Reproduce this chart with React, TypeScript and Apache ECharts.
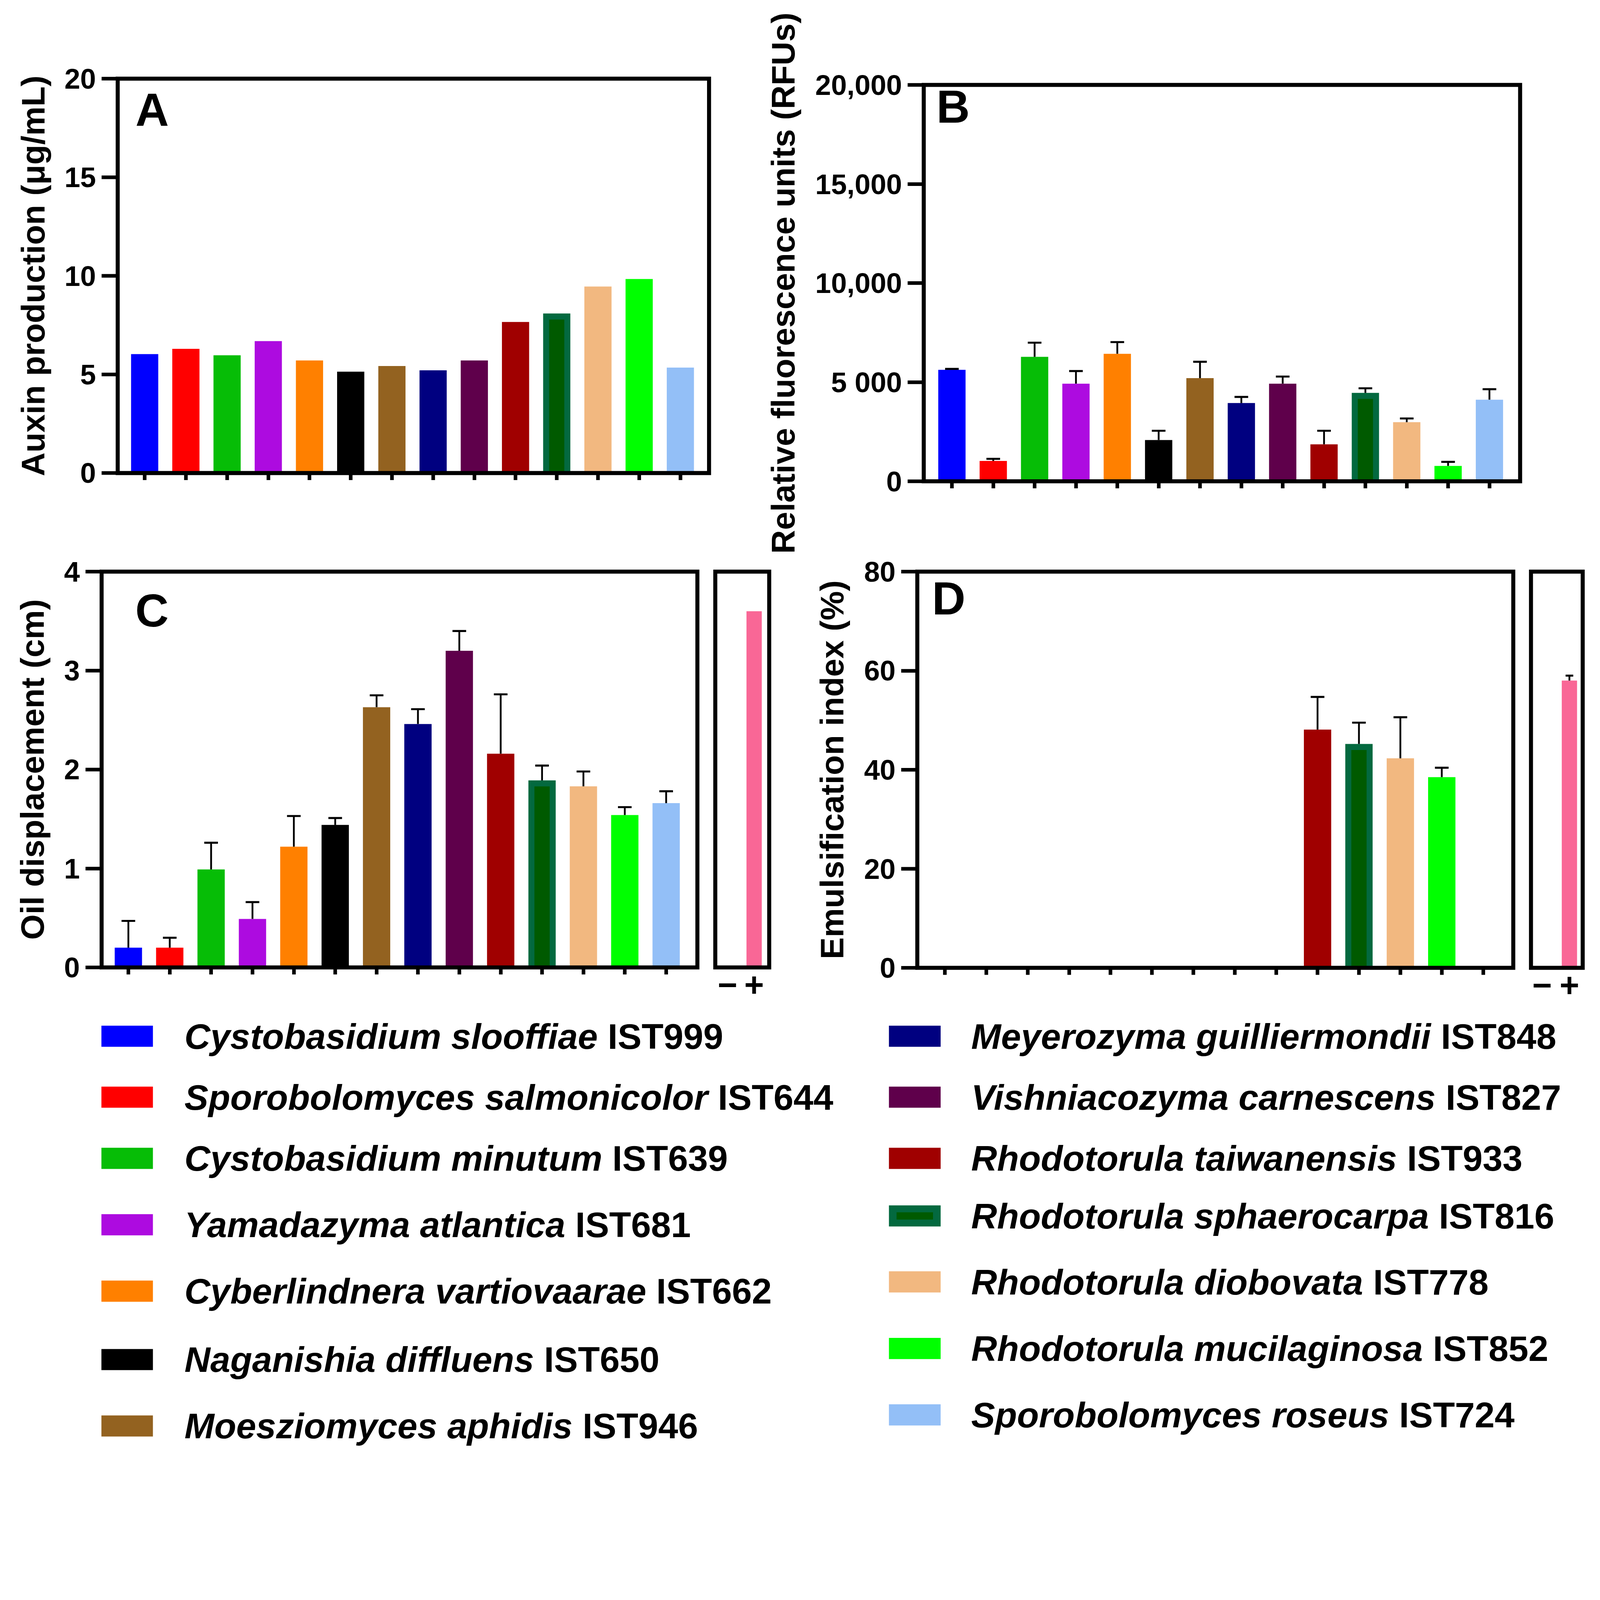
import React, { useEffect, useRef } from 'react';
import * as echarts from 'echarts';

// ---------------- DATA ----------------
const speciesNames = [
  'Cystobasidium slooffiae',
  'Sporobolomyces salmonicolor',
  'Cystobasidium minutum',
  'Yamadazyma atlantica',
  'Cyberlindnera vartiovaarae',
  'Naganishia diffluens',
  'Moesziomyces aphidis',
  'Meyerozyma guilliermondii',
  'Vishniacozyma carnescens',
  'Rhodotorula taiwanensis',
  'Rhodotorula sphaerocarpa',
  'Rhodotorula diobovata',
  'Rhodotorula mucilaginosa',
  'Sporobolomyces roseus',
];
const strainCodes = ['IST999', 'IST644', 'IST639', 'IST681', 'IST662', 'IST650', 'IST946', 'IST848', 'IST827', 'IST933', 'IST816', 'IST778', 'IST852', 'IST724'];
const barColors = ['#0000FF', '#FF0000', '#06BD06', '#AD0BE0', '#FF8000', '#000000', '#936220', '#000080', '#5F004B', '#A00000', '#03693F', '#F2B880', '#00FF00', '#93BFF7'];
const innerGreen = '#005A00';
const controlColor = '#F96796';

// Panel A: auxin production (µg/mL)
const auxin = [6.03, 6.30, 5.97, 6.69, 5.71, 5.14, 5.43, 5.21, 5.71, 7.66, 8.09, 9.46, 9.84, 5.35];
// Panel B: relative fluorescence units
const rfu = [5626, 1026, 6278, 4926, 6434, 2082, 5206, 3947, 4926, 1865, 4460, 2984, 777, 4118];
const rfuErr = [46, 108, 715, 637, 590, 467, 824, 311, 358, 684, 233, 186, 202, 529];
// Panel C: oil displacement (cm)
const oil = [0.2, 0.2, 0.99, 0.49, 1.22, 1.44, 2.63, 2.46, 3.2, 2.16, 1.89, 1.83, 1.54, 1.66];
const oilErr = [0.27, 0.1, 0.27, 0.17, 0.31, 0.07, 0.12, 0.15, 0.2, 0.6, 0.15, 0.15, 0.08, 0.12];
// Panel D: emulsification index (%)
const emul = [0, 0, 0, 0, 0, 0, 0, 0, 0, 48.1, 45.2, 42.3, 38.5, 0];
const emulErr = [0, 0, 0, 0, 0, 0, 0, 0, 0, 6.6, 4.3, 8.3, 1.9, 0];
// Controls
const controls = ['\u2212', '+'];
const oilControl = [0, 3.6];
const oilControlErr = [0, 0];
const emulControl = [0, 58.0];
const emulControlErr = [0, 1.0];

// Tick labels
const ticksA = ['0', '5', '10', '15', '20'];
const ticksB = ['0', '5 000', '10,000', '15,000', '20,000'];
const ticksC = ['0', '1', '2', '3', '4'];
const ticksD = ['0', '20', '40', '60', '80'];

const titles = ['Auxin production (\u03bcg/mL)', 'Relative fluorescence units (RFUs)', 'Oil displacement (cm)', 'Emulsification index (%)'];
const letters = ['A', 'B', 'C', 'D'];

// ---------------- LAYOUT ----------------
const W = 7952;
const H = 7279;
const FONT = "'Liberation Sans', Arial, Helvetica, sans-serif";
const LINE = 20;
const BAR_RATIO = 0.66;

type Panel = {
  frame: [number, number, number, number];
  first: number;
  step: number;
  max: number;
  interval: number;
  ticks: string[];
  nameGap: number;
  letter: [number, number];
};

const panelLayout: Panel[] = [
  { frame: [585, 391, 3524, 2351], first: 719, step: 204.8, max: 20, interval: 5, ticks: ticksA, nameGap: 339, letter: [673, 431] },
  { frame: [4591, 422, 7555, 2392], first: 4731, step: 205.5, max: 20000, interval: 5000, ticks: ticksB, nameGap: 617, letter: [4654, 415] },
  { frame: [505, 2841, 3466, 4808], first: 638, step: 205.6, max: 4, interval: 1, ticks: ticksC, nameGap: 262, letter: [672, 2919] },
  { frame: [4559, 2841, 7521, 4810], first: 4696, step: 205.8, max: 80, interval: 20, ticks: ticksD, nameGap: 342, letter: [4632, 2860] },
];

const sideLayout = [
  { frame: [3555, 2841, 3823, 4808], first: 3616, step: 132, panel: 2, barW: 76 },
  { frame: [7609, 2841, 7866, 4810], first: 7664, step: 136, panel: 3, barW: 76 },
];

const legendCols = [
  { swX: 504, swW: 256, textX: 917, rows: [5150, 5453, 5757, 6087, 6417, 6757, 7087] },
  { swX: 4418, swW: 257, textX: 4827, rows: [5150, 5453, 5757, 6043, 6371, 6702, 7032] },
];

function errorSeries(axisIndex: number, vals: number[], errs: number[], capRatio: number) {
  return {
    type: 'custom',
    xAxisIndex: axisIndex,
    yAxisIndex: axisIndex,
    z: 5,
    silent: true,
    data: vals.map((v, i) => [i, v, errs[i]]),
    renderItem: (params: any, api: any) => {
      const e = api.value(2);
      if (!e) return null;
      const i = api.value(0);
      const v = api.value(1);
      const p0 = api.coord([i, v]);
      const p1 = api.coord([i, v + e]);
      const half = (api.size([1, 0])[0] * capRatio) / 4;
      return {
        type: 'group',
        children: [
          { type: 'line', shape: { x1: p0[0], y1: p0[1], x2: p1[0], y2: p1[1] }, style: { stroke: '#000', lineWidth: 9 } },
          { type: 'line', shape: { x1: p1[0] - half, y1: p1[1], x2: p1[0] + half, y2: p1[1] }, style: { stroke: '#000', lineWidth: 10 } },
        ],
      };
    },
  };
}

function innerSeries(axisIndex: number, vals: number[], idx: number) {
  return {
    type: 'custom',
    xAxisIndex: axisIndex,
    yAxisIndex: axisIndex,
    z: 4,
    silent: true,
    data: [[idx, vals[idx]]],
    renderItem: (params: any, api: any) => {
      const i = api.value(0);
      const v = api.value(1);
      const top = api.coord([i, v]);
      const bot = api.coord([i, 0]);
      const bw = api.size([1, 0])[0] * BAR_RATIO;
      const inset = 30;
      return {
        type: 'rect',
        shape: { x: top[0] - bw / 2 + inset, y: top[1] + inset, width: bw - 2 * inset, height: bot[1] - top[1] - inset },
        style: { fill: innerGreen },
      };
    },
  };
}

function buildOption() {
  const grids: any[] = [];
  const xAxes: any[] = [];
  const yAxes: any[] = [];
  const series: any[] = [];
  const graphics: any[] = [];
  const mainVals = [auxin, rfu, oil, emul];
  const mainErrs = [null, rfuErr, oilErr, emulErr];

  panelLayout.forEach((p, k) => {
    const [L, T, R, B] = p.frame;
    const gl = p.first - p.step / 2;
    grids.push({ left: gl, top: T, width: p.step * 14, height: B - T, containLabel: false });
    xAxes.push({
      type: 'category',
      gridIndex: k,
      data: speciesNames,
      axisLine: { show: false },
      axisTick: { show: true, interval: 0, alignWithLabel: true, length: 35, lineStyle: { color: '#000', width: 18 } },
      axisLabel: { show: false, interval: 0 },
      splitLine: { show: false },
    });
    yAxes.push({
      type: 'value',
      gridIndex: k,
      min: 0,
      max: p.max,
      interval: p.interval,
      offset: gl - L,
      name: titles[k],
      nameLocation: 'middle',
      nameRotate: 90,
      nameGap: p.nameGap,
      nameTextStyle: { fontSize: 163, fontWeight: 'bold', fontFamily: FONT, color: '#000' },
      axisLine: { show: false },
      axisTick: { show: true, length: 80, lineStyle: { color: '#000', width: 18 } },
      axisLabel: {
        show: true,
        margin: 108,
        fontSize: 141,
        fontWeight: 'bold',
        fontFamily: FONT,
        color: '#000',
        showMinLabel: true,
        showMaxLabel: true,
        formatter: (val: number, idx: number) => p.ticks[idx] ?? String(val),
      },
      splitLine: { show: false },
    });
    const vals = mainVals[k];
    series.push({
      type: 'bar',
      xAxisIndex: k,
      yAxisIndex: k,
      barWidth: BAR_RATIO * 100 + '%',
      z: 2,
      data: vals.map((v, i) => ({ value: v, itemStyle: { color: barColors[i] } })),
    });
    series.push(innerSeries(k, vals, 10));
    const errs = mainErrs[k];
    if (errs) series.push(errorSeries(k, vals, errs, BAR_RATIO));
    graphics.push({
      type: 'rect',
      z: 100,
      silent: true,
      shape: { x: L, y: T, width: R - L, height: B - T },
      style: { fill: 'none', stroke: '#000', lineWidth: LINE },
    });
    graphics.push({
      type: 'text',
      z: 100,
      silent: true,
      x: p.letter[0],
      y: p.letter[1],
      style: {
        text: letters[k],
        fontSize: 230,
        fontWeight: 'bold',
        fontFamily: FONT,
        fill: '#000',
        textAlign: 'left',
        align: 'left',
        textVerticalAlign: 'top',
        verticalAlign: 'top',
      },
    });
  });

  const ctrlVals = [oilControl, emulControl];
  const ctrlErrs = [oilControlErr, emulControlErr];
  sideLayout.forEach((s, j) => {
    const k = 4 + j;
    const [L, T, R, B] = s.frame;
    const pm = panelLayout[s.panel];
    const gl = s.first - s.step / 2;
    grids.push({ left: gl, top: T, width: s.step * 2, height: B - T });
    xAxes.push({
      type: 'category',
      gridIndex: k,
      data: controls,
      axisLine: { show: false },
      axisTick: { show: false },
      axisLabel: { show: true, interval: 0, margin: 2, fontSize: 168, fontWeight: 'bold', fontFamily: FONT, color: '#000' },
    });
    yAxes.push({ type: 'value', gridIndex: k, min: 0, max: pm.max, interval: pm.interval, show: false, splitLine: { show: false } });
    series.push({
      type: 'bar',
      xAxisIndex: k,
      yAxisIndex: k,
      barWidth: s.barW,
      z: 2,
      data: ctrlVals[j].map((v) => ({ value: v, itemStyle: { color: controlColor } })),
    });
    series.push(errorSeries(k, ctrlVals[j], ctrlErrs[j], s.barW / s.step));
    graphics.push({
      type: 'rect',
      z: 100,
      silent: true,
      shape: { x: L, y: T, width: R - L, height: B - T },
      style: { fill: 'none', stroke: '#000', lineWidth: LINE },
    });
  });

  // Legend
  speciesNames.forEach((name, i) => {
    const col = legendCols[i < 7 ? 0 : 1];
    const cy = col.rows[i % 7];
    const swH = 105;
    graphics.push({
      type: 'rect',
      z: 50,
      silent: true,
      shape: { x: col.swX, y: cy - swH / 2, width: col.swW, height: swH },
      style: { fill: barColors[i] },
    });
    if (i === 10) {
      graphics.push({
        type: 'rect',
        z: 51,
        silent: true,
        shape: { x: col.swX + 38, y: cy - 18, width: col.swW - 76, height: 36 },
        style: { fill: innerGreen },
      });
    }
    graphics.push({
      type: 'text',
      z: 50,
      silent: true,
      x: col.textX,
      y: cy,
      style: {
        text: '{i|' + name + '} {b|' + strainCodes[i] + '}',
        fontSize: 178,
        fontWeight: 'bold',
        fontFamily: FONT,
        fill: '#000',
        textAlign: 'left',
        align: 'left',
        textVerticalAlign: 'middle',
        verticalAlign: 'middle',
        rich: {
          i: { fontStyle: 'italic', fontWeight: 'bold', fontSize: 178, fontFamily: FONT, fill: '#000', color: '#000' },
          b: { fontWeight: 'bold', fontSize: 178, fontFamily: FONT, fill: '#000', color: '#000' },
        },
      },
    });
  });

  return {
    animation: false,
    backgroundColor: '#ffffff',
    grid: grids,
    xAxis: xAxes,
    yAxis: yAxes,
    series,
    graphic: { elements: graphics },
  };
}

function fitScale() {
  if (typeof window === 'undefined') return 1;
  const vw = document.documentElement.clientWidth || window.innerWidth;
  const vh = window.innerHeight;
  const s = Math.min(vw / W, vh / H);
  return s > 0 && s < 1 ? s : 1;
}

export default function App() {
  const ref = useRef<HTMLDivElement>(null);
  const scale = fitScale();
  useEffect(() => {
    if (!ref.current) return;
    const chart = echarts.init(ref.current, undefined, { renderer: 'svg', width: W, height: H });
    chart.setOption(buildOption() as any);
    return () => {
      chart.dispose();
    };
  }, []);
  return (
    <div style={{ position: 'fixed', left: 0, top: 0, width: '100vw', height: '100vh', overflow: 'hidden', background: '#fff' }}>
      <div
        ref={ref}
        style={{
          position: 'absolute',
          left: 0,
          top: 0,
          width: W,
          height: H,
          transform: 'scale(' + scale + ')',
          transformOrigin: '0 0',
          background: '#fff',
        }}
      />
    </div>
  );
}
